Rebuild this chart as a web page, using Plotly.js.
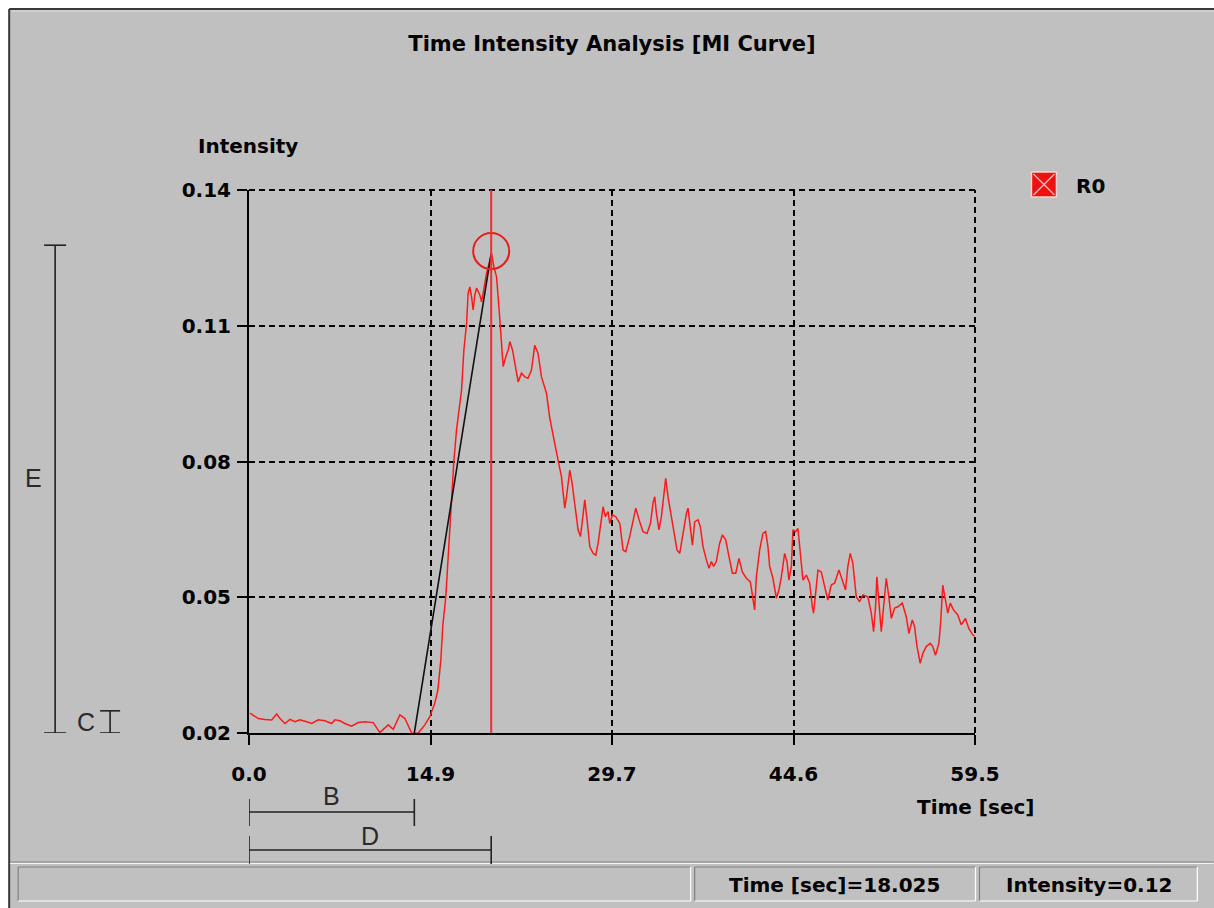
<!DOCTYPE html>
<html><head><meta charset="utf-8">
<script src="https://cdn.plot.ly/plotly-3.0.1.min.js"></script>
<style>html,body{margin:0;padding:0;background:#fff;overflow:hidden}#chart{width:1214px;height:908px}</style>
</head><body><div id="chart"></div>
<script>
// ---- data ----
const time = [
0.08,0.76,1.31,1.86,2.27,2.54,2.95,3.36,3.77,4.18,
4.73,5.14,5.68,6.22,6.77,7.04,7.45,7.86,8.41,8.95,
9.50,10.18,10.73,11.14,11.41,11.82,12.37,12.78,13.33,13.60,
13.87,14.41,14.82,15.23,15.48,15.72,15.89,16.13,16.30,16.46,
16.63,16.79,17.01,17.20,17.42,17.61,17.83,17.96,18.10,18.24,
18.37,18.51,18.65,18.92,19.06,19.19,19.47,19.74,19.88,20.07,
20.29,20.56,20.70,20.83,21.05,21.24,21.38,21.60,21.79,22.06,
22.33,22.60,22.87,23.15,23.42,23.69,23.97,24.38,24.65,24.92,
25.33,25.61,25.88,26.02,26.29,26.48,26.70,26.97,27.17,27.33,
27.52,27.71,27.93,28.20,28.42,28.61,28.89,29.02,29.21,29.43,
29.57,29.79,30.06,30.39,30.66,30.88,31.20,31.47,31.70,31.97,
32.29,32.62,32.90,33.11,33.25,33.39,33.60,33.80,33.99,34.15,
34.34,34.62,34.89,35.08,35.30,35.57,35.85,35.98,36.17,36.34,
36.53,36.80,36.99,37.21,37.49,37.70,37.90,38.08,38.30,38.57,
38.80,39.07,39.34,39.62,39.89,40.16,40.43,40.76,41.09,41.30,
41.44,41.58,41.85,42.12,42.34,42.53,42.67,42.94,43.22,43.43,
43.63,43.90,44.09,44.25,44.45,44.58,44.80,44.99,45.27,45.40,
45.68,45.95,46.17,46.27,46.44,46.63,46.90,47.17,47.44,47.72,
47.99,48.35,48.62,48.89,49.08,49.28,49.49,49.77,50.04,50.31,
50.72,51.00,51.19,51.35,51.46,51.62,51.82,52.01,52.23,52.44,
52.64,52.91,53.18,53.54,53.87,54.08,54.36,54.55,54.73,55.01,
55.23,55.50,55.83,56.04,56.26,56.54,56.68,56.86,57.08,57.27,
57.47,57.74,58.09,58.37,58.72,58.99,59.32,59.46
];
const intensity = [
0.0244,0.0232,0.0230,0.0229,0.0242,0.0232,0.0221,0.0230,0.0225,0.0229,
0.0225,0.0221,0.0229,0.0227,0.0221,0.0229,0.0227,0.0221,0.0215,0.0223,
0.0225,0.0223,0.0201,0.0210,0.0218,0.0208,0.0240,0.0232,0.0200,0.0199,
0.0200,0.0218,0.0236,0.0266,0.0295,0.0361,0.0439,0.0501,0.0582,0.0671,
0.0748,0.0801,0.0870,0.0914,0.0958,0.1046,0.1105,0.1172,0.1186,0.1164,
0.1135,0.1168,0.1183,0.1168,0.1153,0.1172,0.1216,0.1245,0.1260,0.1230,
0.1208,0.1113,0.1054,0.1010,0.1032,0.1046,0.1065,0.1046,0.1017,0.0976,
0.0995,0.0987,0.0984,0.1002,0.1057,0.1039,0.0987,0.0951,0.0896,0.0862,
0.0803,0.0766,0.0697,0.0722,0.0781,0.0752,0.0700,0.0649,0.0634,0.0678,
0.0715,0.0671,0.0612,0.0597,0.0593,0.0619,0.0678,0.0700,0.0678,0.0689,
0.0663,0.0682,0.0678,0.0663,0.0604,0.0601,0.0634,0.0671,0.0697,0.0671,
0.0645,0.0641,0.0663,0.0708,0.0722,0.0686,0.0649,0.0678,0.0730,0.0763,
0.0722,0.0678,0.0634,0.0604,0.0597,0.0641,0.0686,0.0697,0.0649,0.0615,
0.0667,0.0671,0.0656,0.0612,0.0582,0.0564,0.0579,0.0568,0.0579,0.0619,
0.0638,0.0627,0.0590,0.0553,0.0553,0.0586,0.0556,0.0542,0.0534,0.0494,
0.0472,0.0545,0.0604,0.0641,0.0645,0.0612,0.0568,0.0542,0.0498,0.0516,
0.0545,0.0597,0.0579,0.0538,0.0568,0.0649,0.0645,0.0652,0.0568,0.0538,
0.0549,0.0531,0.0479,0.0465,0.0509,0.0560,0.0556,0.0523,0.0494,0.0527,
0.0531,0.0560,0.0538,0.0516,0.0568,0.0597,0.0575,0.0501,0.0490,0.0505,
0.0501,0.0465,0.0424,0.0479,0.0545,0.0494,0.0424,0.0479,0.0542,0.0501,
0.0453,0.0476,0.0479,0.0487,0.0457,0.0420,0.0450,0.0435,0.0394,0.0354,
0.0376,0.0391,0.0398,0.0391,0.0372,0.0398,0.0442,0.0527,0.0494,0.0465,
0.0487,0.0472,0.0461,0.0439,0.0453,0.0431,0.0417,0.0414
];
const xTickVals = [0, 14.875, 29.75, 44.625, 59.5];
const xTickText = ['0.0', '14.9', '29.7', '44.6', '59.5'];
const yTickVals = [0.02, 0.05, 0.08, 0.11, 0.14];
const yTickText = ['0.02', '0.05', '0.08', '0.11', '0.14'];
const seriesName = 'R0';
const arrivalTime = 13.55;    // B
const peakTime = 19.85;       // D
const peakIntensity = 0.1260;
const eTop = 0.1278;          // E
const cTop = 0.0249;          // C
const yMin = 0.02, yMax = 0.14, xMax = 59.5;
const cursorTime = '18.025', cursorIntensity = '0.12';

// ---- page geometry ----
const W = 1214, H = 908, ML = 249, MR = 238.5, MT = 190, MB = 175;
const PW = W - ML - MR, PH = H - MT - MB;
const fx = x => (x - ML) / PW;
const fy = y => (H - MB - y) / PH;

const FONT = 'DejaVu Sans, Verdana, sans-serif';
const bold = (size, color) => ({family: FONT, size: size, color: color || '#000', weight: 'bold'});
const thin = {family: 'Liberation Sans, Arial, sans-serif', size: 25, color: '#2a2a2a'};
const GRIDDASH = '6px,4px';

const traces = [
  {x: time, y: intensity, type: 'scatter', mode: 'lines', name: seriesName,
   line: {color: '#ff1a1a', width: 1.5}, hoverinfo: 'skip', showlegend: false},
  {x: [arrivalTime, peakTime], y: [yMin, peakIntensity], type: 'scatter', mode: 'lines',
   line: {color: '#111', width: 1.6}, hoverinfo: 'skip', showlegend: false},
  {x: [peakTime], y: [peakIntensity + 0.0005], type: 'scatter', mode: 'markers',
   marker: {symbol: 'circle-open', size: 36, color: '#e81c1c', line: {width: 2, color: '#e81c1c'}},
   hoverinfo: 'skip', showlegend: false}
];

const L = (x0, y0, x1, y1, color, width, xref, yref, layer, dash) => ({
  type: 'line', x0, y0, x1, y1, xref: xref || 'paper', yref: yref || 'paper',
  line: {color, width, dash: dash || 'solid'}, layer: layer || 'above'});

const shapes = [
  // window background and frame
  {type: 'rect', xref: 'paper', yref: 'paper', x0: fx(9), x1: fx(1216), y0: fy(9), y1: fy(910),
   fillcolor: '#c0c0c0', line: {width: 0}, layer: 'below'},
  L(fx(9), fy(9), fx(1216), fy(9), '#3a3a3a', 2, null, null, 'below'),
  L(fx(9), fy(9), fx(9), fy(910), '#3a3a3a', 2, null, null, 'below'),
  L(fx(11), fy(11), fx(1216), fy(11), '#dcdcdc', 1, null, null, 'below'),
  // status bar
  L(fx(10), fy(862), fx(1214), fy(862), '#8a8a8a', 1),
  L(fx(10), fy(863.5), fx(1214), fy(863.5), '#f4f4f4', 1),
  // top and right grid lines along the plot-area edges (paper refs are not clipped)
  L(0, 1, 1, 1, '#000', 2, 'paper', 'paper', 'above', GRIDDASH),
  L(1, 0, 1, 1, '#000', 2, 'paper', 'paper', 'above', GRIDDASH)
];
// sunken panels
[[18, 691], [695, 976], [980, 1198]].forEach(([a, b]) => {
  shapes.push(L(fx(a), fy(867), fx(b), fy(867), '#808080', 1.2));
  shapes.push(L(fx(a), fy(867), fx(a), fy(901), '#808080', 1.2));
  shapes.push(L(fx(a), fy(901), fx(b), fy(901), '#ffffff', 1.2));
  shapes.push(L(fx(b), fy(867), fx(b), fy(901), '#ffffff', 1.2));
});
// vertical red line at the peak time
shapes.push(L(peakTime, 0, peakTime, 1, '#ee3030', 2, 'x', 'paper'));
// B bar
shapes.push(L(0, fy(812), arrivalTime, fy(812), '#222', 1.6, 'x', 'paper'));
shapes.push(L(0, fy(799), 0, fy(826), '#222', 1.6, 'x', 'paper'));
shapes.push(L(arrivalTime, fy(799), arrivalTime, fy(826), '#222', 1.6, 'x', 'paper'));
// D bar
shapes.push(L(0, fy(850), peakTime, fy(850), '#222', 1.6, 'x', 'paper'));
shapes.push(L(0, fy(836), 0, fy(864), '#222', 1.6, 'x', 'paper'));
shapes.push(L(peakTime, fy(836), peakTime, fy(864), '#222', 1.6, 'x', 'paper'));
// E bar
shapes.push(L(fx(55), yMin, fx(55), eTop, '#222', 1.6, 'paper', 'y'));
shapes.push(L(fx(44), eTop, fx(66), eTop, '#222', 1.6, 'paper', 'y'));
shapes.push(L(fx(44), yMin, fx(66), yMin, '#222', 1.6, 'paper', 'y'));
// C bar
shapes.push(L(fx(110), yMin, fx(110), cTop, '#222', 1.6, 'paper', 'y'));
shapes.push(L(fx(100), cTop, fx(120), cTop, '#222', 1.6, 'paper', 'y'));
shapes.push(L(fx(100), yMin, fx(120), yMin, '#222', 1.6, 'paper', 'y'));
// legend swatch
shapes.push({type: 'rect', xref: 'paper', yref: 'paper', x0: fx(1032), x1: fx(1057), y0: fy(197), y1: fy(172),
  fillcolor: '#f01010', line: {color: '#ffd0d0', width: 1.5}});
shapes.push(L(fx(1034), fy(174), fx(1055), fy(195), '#ffb4b4', 1.5));
shapes.push(L(fx(1055), fy(174), fx(1034), fy(195), '#ffb4b4', 1.5));

const A = (text, x, y, font, xanchor, xref, yref) => ({
  text, x, y, xref: xref || 'paper', yref: yref || 'paper', showarrow: false,
  xanchor: xanchor || 'center', yanchor: 'middle', font});

const annotations = [
  A('Intensity', fx(248), fy(146), bold(20)),
  A('Time [sec]', fx(976), fy(807), bold(20)),
  A(seriesName, fx(1075), fy(186), bold(20), 'left'),
  A('B', arrivalTime / 2, fy(796), thin, 'center', 'x', 'paper'),
  A('D', peakTime / 2, fy(836), thin, 'center', 'x', 'paper'),
  A('E', fx(33), fy(478), thin),
  A('C', fx(86), fy(722), thin),
  A('Time [sec]=' + cursorTime, fx(835), fy(885), bold(20)),
  A('Intensity=' + cursorIntensity, fx(1090), fy(885), bold(20))
];

const axisCommon = {
  ticks: 'outside', ticklen: 10, tickwidth: 2, tickcolor: '#000',
  showline: true, linewidth: 2, linecolor: '#000', mirror: false,
  showgrid: true, gridcolor: '#000', gridwidth: 2, griddash: GRIDDASH,
  zeroline: false, tickfont: bold(20), fixedrange: true
};

const layout = {
  width: W, height: H,
  margin: {l: ML, r: MR, t: MT, b: MB, pad: 0},
  paper_bgcolor: '#ffffff', plot_bgcolor: 'rgba(0,0,0,0)',
  title: {text: 'Time Intensity Analysis [MI Curve]', font: bold(21),
          xref: 'container', yref: 'container', x: 612 / W, y: 1 - 44 / H,
          xanchor: 'center', yanchor: 'middle'},
  xaxis: Object.assign({}, axisCommon, {range: [0, xMax], tickmode: 'array',
          tickvals: xTickVals, ticktext: xTickText, ticklabelstandoff: 12}),
  yaxis: Object.assign({}, axisCommon, {range: [yMin, yMax], tickmode: 'array',
          tickvals: yTickVals, ticktext: yTickText, ticklabelstandoff: 2}),
  shapes, annotations, showlegend: false
};

Plotly.newPlot('chart', traces, layout, {displayModeBar: false, staticPlot: true});
</script></body></html>
